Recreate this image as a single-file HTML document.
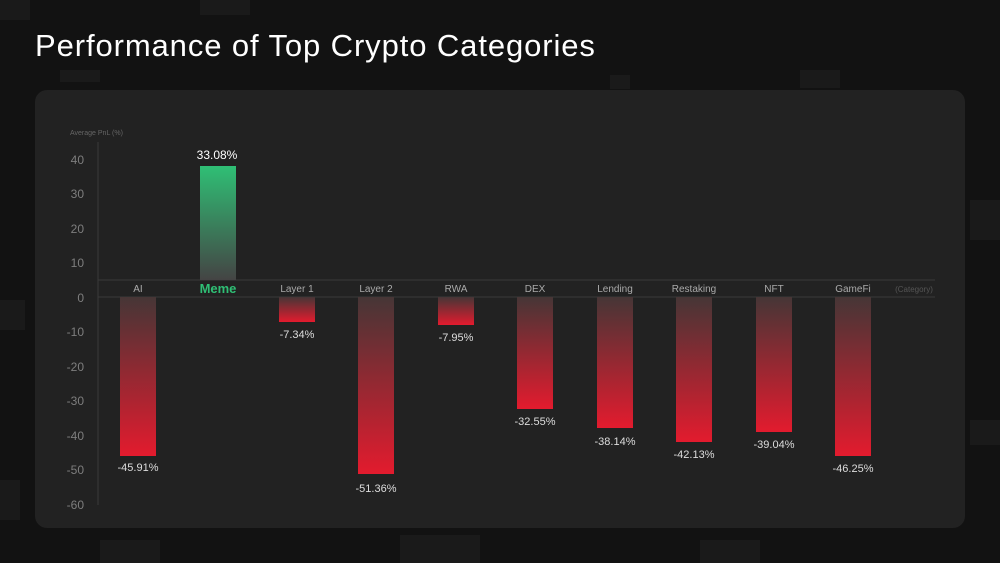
<!DOCTYPE html>
<html><head><style>
body{margin:0;width:1000px;height:563px;background:#121212;overflow:hidden;font-family:"Liberation Sans",sans-serif;position:relative}
.t{position:absolute;left:35px;top:28px;color:#fff;font-size:31px;letter-spacing:0.9px}
.card{position:absolute;left:35px;top:90px;width:930px;height:438px;background:#222;border-radius:12px}
svg{position:absolute;left:0;top:0}
</style></head><body>
<svg width="1000" height="563">
<g fill="#1a1a1a">
<rect x="0" y="0" width="30" height="20"/><rect x="60" y="70" width="40" height="12"/><rect x="200" y="0" width="50" height="15"/><rect x="610" y="75" width="20" height="14"/><rect x="800" y="70" width="40" height="18"/><rect x="970" y="200" width="30" height="40"/><rect x="0" y="300" width="25" height="30"/><rect x="970" y="420" width="30" height="25"/><rect x="100" y="540" width="60" height="23"/><rect x="400" y="535" width="80" height="28"/><rect x="700" y="540" width="60" height="23"/><rect x="0" y="480" width="20" height="40"/>
</g>
</svg>
<div class="t">Performance of Top Crypto Categories</div>
<div class="card"></div>
<svg width="1000" height="563" font-family="Liberation Sans, sans-serif">
<defs>
<linearGradient id="g" x1="0" y1="1" x2="0" y2="0"><stop offset="0" stop-color="#444"/><stop offset="1" stop-color="#2fbf75"/></linearGradient>
<linearGradient id="r" x1="0" y1="0" x2="0" y2="1"><stop offset="0" stop-color="#463636"/><stop offset="1" stop-color="#e31b2e"/></linearGradient>
</defs>
<text x="70" y="135" fill="#666" font-size="7">Average PnL (%)</text>
<line x1="98" y1="142" x2="98" y2="505" stroke="#3a3a3a"/>
<line x1="98" y1="280" x2="935" y2="280" stroke="#3a3a3a"/>
<line x1="98" y1="297" x2="935" y2="297" stroke="#3a3a3a"/>
<g fill="#7e7e7e" font-size="12" text-anchor="end">
<text x="84" y="164">40</text><text x="84" y="198">30</text><text x="84" y="233">20</text><text x="84" y="267">10</text><text x="84" y="302">0</text><text x="84" y="336">-10</text><text x="84" y="371">-20</text><text x="84" y="405">-30</text><text x="84" y="440">-40</text><text x="84" y="474">-50</text><text x="84" y="509">-60</text>
</g>
<rect x="200" y="166" width="36" height="114" fill="url(#g)"/>
<text x="217" y="159" fill="#fff" font-size="12" text-anchor="middle">33.08%</text>
<g fill="url(#r)">
<rect x="120" y="297" width="36" height="159"/>
<rect x="279" y="297" width="36" height="25"/>
<rect x="358" y="297" width="36" height="177"/>
<rect x="438" y="297" width="36" height="28"/>
<rect x="517" y="297" width="36" height="112"/>
<rect x="597" y="297" width="36" height="131"/>
<rect x="676" y="297" width="36" height="145"/>
<rect x="756" y="297" width="36" height="135"/>
<rect x="835" y="297" width="36" height="159"/>
</g>
<g fill="#aaa" font-size="10" text-anchor="middle">
<text x="138" y="292">AI</text>
<text x="218" y="293" fill="#2fbf75" font-size="13" font-weight="bold">Meme</text>
<text x="297" y="292">Layer 1</text><text x="376" y="292">Layer 2</text><text x="456" y="292">RWA</text><text x="535" y="292">DEX</text><text x="615" y="292">Lending</text><text x="694" y="292">Restaking</text><text x="774" y="292">NFT</text><text x="853" y="292">GameFi</text>
<text x="914" y="292" fill="#555" font-size="8">(Category)</text>
</g>
<g fill="#ddd" font-size="11" text-anchor="middle">
<text x="138" y="471">-45.91%</text><text x="297" y="338">-7.34%</text><text x="376" y="492">-51.36%</text><text x="456" y="341">-7.95%</text><text x="535" y="425">-32.55%</text><text x="615" y="445">-38.14%</text><text x="694" y="458">-42.13%</text><text x="774" y="448">-39.04%</text><text x="853" y="472">-46.25%</text>
</g>
</svg>
</body></html>
